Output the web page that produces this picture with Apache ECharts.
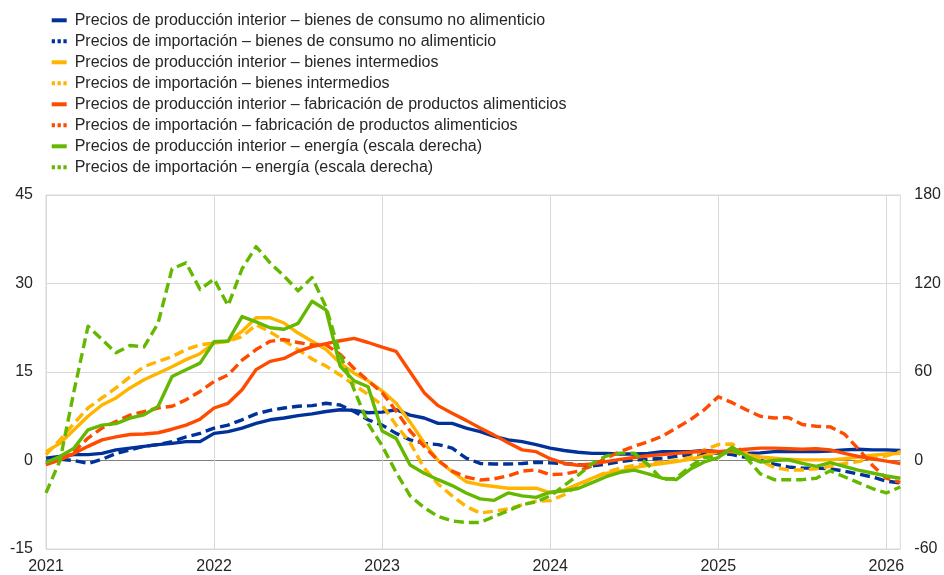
<!DOCTYPE html>
<html>
<head>
<meta charset="utf-8">
<script src="https://cdn.jsdelivr.net/npm/echarts@6/dist/echarts.min.js"></script>
<style>
html,body{margin:0;padding:0;background:#fff;}
#chart{width:944px;height:575px;}
</style>
</head>
<body>
<div id="chart"></div>
<script>
// Month categories Jan 2021 - Feb 2026
const months = [];
for (let y = 2021; y <= 2026; y++) {
  for (let m = 1; m <= 12; m++) {
    if (y === 2026 && m > 2) break;
    months.push(y + '-' + (m < 10 ? '0' + m : m));
  }
}
const yearLabels = ['2021', '2022', '2023', '2024', '2025', '2026'];
const leftTicks = [-15, 0, 15, 30, 45];
const rightTicks = [-60, 0, 60, 120, 180];

const seriesNames = [
  'Precios de producción interior – bienes de consumo no alimenticio',
  'Precios de importación – bienes de consumo no alimenticio',
  'Precios de producción interior – bienes intermedios',
  'Precios de importación – bienes intermedios',
  'Precios de producción interior – fabricación de productos alimenticios',
  'Precios de importación – fabricación de productos alimenticios',
  'Precios de producción interior – energía (escala derecha)',
  'Precios de importación – energía (escala derecha)'
];

const ppiNonFood = [0.4,0.7,1.0,1.0,1.2,1.8,2.1,2.4,2.7,2.9,3.2,3.2,
  4.6,4.9,5.5,6.3,6.9,7.2,7.6,7.9,8.3,8.6,8.5,8.1,
  8.2,8.6,7.7,7.2,6.3,6.3,5.5,4.9,4.1,3.5,3.2,2.7,
  2.1,1.7,1.4,1.2,1.2,1.1,1.1,1.2,1.5,1.5,1.5,1.7,
  1.5,1.4,1.2,1.3,1.5,1.5,1.5,1.5,1.6,1.8,1.9,1.8,
  1.8,1.7];
const impNonFood = [-0.2,0.2,0,-0.5,0.2,1.2,1.8,2.4,2.7,3.2,4.0,4.6,
  5.5,6.0,6.9,7.9,8.5,8.9,9.2,9.3,9.7,9.4,8.3,6.9,
  6.0,4.6,3.5,2.9,2.7,2.1,0.4,-0.5,-0.6,-0.6,-0.5,-0.3,
  -0.4,-0.5,-0.7,-0.9,-0.6,-0.2,0.1,0.2,0.4,0.7,1.0,1.1,
  1.3,1.0,0.5,0,-0.6,-1.1,-1.3,-1.3,-1.4,-1.8,-2.3,-2.8,
  -3.5,-3.8];
const ppiInter = [1.5,2.9,5.2,7.5,9.4,10.6,12.3,13.7,14.8,15.9,17.1,18.1,
  19.9,20.2,21.9,24.2,24.2,23.3,21.6,20.2,18.8,16.5,14.8,13.5,
  11.8,9.7,6.5,3.0,0,-1.9,-3.6,-4.1,-4.4,-4.7,-4.7,-4.7,
  -5.5,-5.0,-4.0,-3.0,-2.2,-1.8,-1.2,-0.8,-0.5,-0.2,0.2,0.8,
  1.5,1.5,1.0,0.6,0.4,0.2,0.1,0.1,0.1,0.3,0.6,0.9,
  1.1,1.2];
const impInter = [1.0,3.5,6.3,8.9,10.6,12.3,14.2,15.9,16.8,17.6,18.8,19.6,
  19.9,20.2,21.0,23.0,21.8,20.3,18.8,17.2,16.0,14.5,12.8,11.2,
  9.4,6.0,3.0,-1.3,-4.0,-6.0,-7.8,-8.9,-8.6,-8.2,-7.5,-6.9,
  -6.8,-5.8,-4.3,-3.0,-2.0,-1.3,-0.8,-0.5,-0.3,0,0.5,1.8,
  2.7,2.8,1.2,0,-1.2,-1.6,-1.6,-1.4,-1.0,-0.5,-0.2,0.3,
  0.8,1.5];
const ppiFood = [-0.7,0.1,1.2,2.4,3.5,4.0,4.4,4.5,4.7,5.3,6.0,7.0,
  8.9,9.7,12.0,15.4,16.8,17.3,18.5,19.3,19.8,20.3,20.7,20.0,
  19.2,18.5,15.0,11.5,9.3,8.0,6.8,5.5,4.3,3.0,1.8,1.5,
  0.3,-0.5,-0.8,-0.6,-0.2,0.2,0.5,0.8,1.0,1.2,1.4,1.6,
  1.5,1.7,1.9,2.1,2.1,2.0,1.9,2.0,1.8,1.2,0.7,0.3,
  -0.1,-0.5];
const impFood = [-0.6,0.2,1.5,3.8,5.5,6.6,7.7,8.3,8.9,9.2,10.3,11.7,
  13.4,14.5,17.0,18.8,20.2,20.5,20.0,19.6,19.6,18.0,15.6,13.5,
  11.5,8.4,5.0,2.4,0,-1.8,-2.8,-3.3,-3.1,-2.6,-1.8,-1.6,
  -2.4,-2.3,-1.8,-0.9,0.4,1.5,2.4,3.2,4.1,5.5,6.9,8.6,
  10.8,9.8,8.6,7.5,7.2,7.3,6.1,5.8,5.7,4.5,2.0,-0.8,
  -3.0,-3.7];
const ppiEnergy = [-1.4,2.7,8.4,20.8,24,25,28.7,31,36.6,57,61.5,66,
  80.5,81,97.6,94,90,89,93,108,102,64,54,50,
  20,15,-3,-8.6,-13,-17,-22,-26,-27,-22,-24,-25,
  -21.5,-20.5,-19,-15,-11,-8,-6.5,-9,-12,-13,-6,-1,
  2,9,3,-1,0,0.5,-2,-4,-1.5,-4,-6.5,-8.5,
  -10.5,-12];
const impEnergy = [-22,0,47,91,82,73,78,77,93,130,134,116,
  123,105,130,145,134,125,115,124,104,72,48,25,
  10,-8,-24,-32,-38,-41,-42,-42,-38,-34,-30,-28,
  -24,-17,-10,-2,3,5,5,-3,-13,-12,-4,2,
  3,7,2,-9,-13,-13,-13,-12,-7,-11,-15,-19,
  -22,-18];

const seriesData = [ppiNonFood, impNonFood, ppiInter, impInter, ppiFood, impFood, ppiEnergy, impEnergy];
const seriesColors = ['#003299', '#003299', '#FFB400', '#FFB400', '#FF4B00', '#FF4B00', '#65B800', '#65B800'];
const seriesDashed = [false, true, false, true, false, true, false, true];
const seriesAxis = [0, 0, 0, 0, 0, 0, 1, 1];

const FONT = '"Liberation Sans", Arial, sans-serif';
const dashIcon = 'path://M0,0h3.3v4h-3.3z M5.85,0h3.3v4h-3.3z M11.7,0h3.3v4h-3.3z';

const chart = echarts.init(document.getElementById('chart'), null, {renderer: 'canvas'});

const series = seriesNames.map((name, i) => ({
  name: name,
  type: 'line',
  yAxisIndex: seriesAxis[i],
  data: seriesData[i],
  symbol: 'none',
  smooth: false,
  color: seriesColors[i],
  lineStyle: {
    color: seriesColors[i],
    width: 3.4,
    type: seriesDashed[i] ? [10, 5] : 'solid',
    cap: 'butt',
    join: 'round'
  },
  emphasis: {disabled: true},
  animation: false
}));

chart.setOption({
  animation: false,
  backgroundColor: '#ffffff',
  textStyle: {fontFamily: FONT},
  legend: {
    orient: 'vertical',
    left: 46.7,
    top: 6.3,
    itemGap: 3,
    itemWidth: 15,
    itemHeight: 4,
    selectedMode: false,
    itemStyle: {borderWidth: 0},
    textStyle: {
      fontFamily: FONT,
      fontSize: 16,
      lineHeight: 18,
      color: '#262626',
      padding: [0, 0, 0, 3]
    },
    data: seriesNames.map((n, i) => ({
      name: n,
      icon: seriesDashed[i] ? dashIcon : 'rect',
      itemStyle: {color: seriesColors[i], borderWidth: 0}
    }))
  },
  grid: {
    left: 46,
    right: 42,
    top: 195,
    bottom: 26,
    show: true,
    borderColor: '#d9d9d9',
    borderWidth: 1,
    backgroundColor: 'transparent',
    containLabel: false
  },
  xAxis: {
    type: 'category',
    data: months,
    boundaryGap: false,
    axisLine: {show: false, onZero: false},
    axisTick: {show: false},
    axisLabel: {
      interval: 11,
      margin: 10,
      fontFamily: FONT,
      fontSize: 16,
      color: '#262626',
      formatter: function (v, idx) { return yearLabels[Math.round(idx / 12)]; }
    },
    splitLine: {
      show: true,
      interval: 11,
      lineStyle: {color: '#d9d9d9', width: 1}
    }
  },
  yAxis: [
    {
      type: 'value',
      min: leftTicks[0],
      max: leftTicks[leftTicks.length - 1],
      interval: 15,
      position: 'left',
      axisLine: {show: false},
      axisTick: {show: false},
      axisLabel: {fontFamily: FONT, fontSize: 16, color: '#262626', margin: 13},
      splitLine: {
        show: true,
        lineStyle: {color: ['#d9d9d9', '#7f7f7f', '#d9d9d9', '#d9d9d9', '#d9d9d9'], width: 1}
      }
    },
    {
      type: 'value',
      min: rightTicks[0],
      max: rightTicks[rightTicks.length - 1],
      interval: 60,
      position: 'right',
      axisLine: {show: false},
      axisTick: {show: false},
      axisLabel: {fontFamily: FONT, fontSize: 16, color: '#262626', margin: 14},
      splitLine: {show: false}
    }
  ],
  series: series
});
</script>
</body>
</html>
